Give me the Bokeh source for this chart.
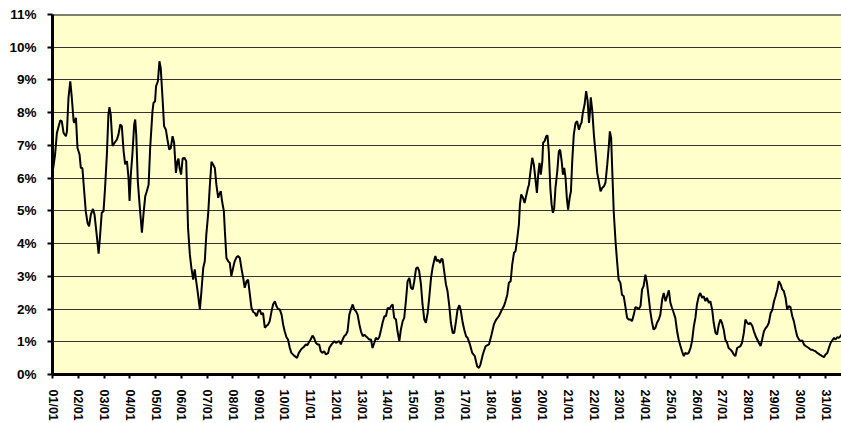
from bokeh.plotting import figure
from bokeh.models import FixedTicker, Range1d, Span
from bokeh.embed import file_html
from bokeh.resources import INLINE

# time axis in years (01/01 = 1.0), value in %
x_vals = [
    1.00, 1.10, 1.17, 1.30, 1.36, 1.43, 1.52, 1.56, 1.62, 1.69, 1.75, 1.82, 1.85, 1.91, 1.97,
    2.05, 2.10, 2.16, 2.23, 2.29, 2.36, 2.42, 2.49, 2.57, 2.63, 2.70, 2.79, 2.85, 2.91, 2.98,
    3.04, 3.11, 3.17, 3.21, 3.26, 3.33, 3.41, 3.50, 3.56, 3.63, 3.69, 3.76, 3.82, 3.89, 3.95, 3.99,
    4.04, 4.10, 4.17, 4.21, 4.25, 4.31, 4.38, 4.47, 4.53, 4.60, 4.66, 4.73, 4.79, 4.88, 4.92, 4.98,
    5.02, 5.09, 5.15, 5.20, 5.27, 5.33, 5.40, 5.46, 5.53, 5.59, 5.66, 5.72, 5.79, 5.85, 5.89, 5.93, 5.99,
    6.05, 6.12, 6.19, 6.26, 6.33, 6.39, 6.46, 6.52, 6.56, 6.63, 6.72, 6.78, 6.85, 6.91, 6.97,
    7.04, 7.10, 7.17, 7.23, 7.30, 7.36, 7.43, 7.47, 7.53, 7.58, 7.65, 7.69, 7.75, 7.82, 7.88, 7.94,
    8.01, 8.07, 8.14, 8.20, 8.27, 8.33, 8.40, 8.46, 8.53, 8.59, 8.66, 8.72, 8.79, 8.85, 8.92, 8.98,
    9.04, 9.11, 9.17, 9.24, 9.30, 9.37, 9.43, 9.50, 9.56, 9.63, 9.69, 9.76, 9.82, 9.89, 9.95,
    10.01, 10.08, 10.14, 10.21, 10.27, 10.40, 10.49, 10.56, 10.66, 10.75, 10.83, 10.89, 10.96,
    11.02, 11.09, 11.15, 11.22, 11.28, 11.35, 11.41, 11.48, 11.54, 11.61, 11.70, 11.74, 11.83, 11.94,
    12.00, 12.07, 12.13, 12.19, 12.26, 12.32, 12.39, 12.45, 12.52, 12.58, 12.65, 12.71, 12.78, 12.84, 12.91, 12.97,
    13.04, 13.10, 13.16, 13.23, 13.29, 13.36, 13.42, 13.49, 13.55, 13.62, 13.68, 13.75, 13.81, 13.88, 13.94,
    14.01, 14.07, 14.14, 14.20, 14.26, 14.33, 14.39, 14.46, 14.52, 14.59, 14.65, 14.72, 14.78, 14.85, 14.91, 14.98,
    15.04, 15.11, 15.17, 15.23, 15.30, 15.36, 15.43, 15.49, 15.56, 15.62, 15.69, 15.75, 15.82, 15.86, 15.91, 15.97,
    16.04, 16.10, 16.14, 16.20, 16.27, 16.33, 16.40, 16.46, 16.53, 16.59, 16.66, 16.72, 16.79, 16.85, 16.92, 16.98,
    17.05, 17.11, 17.20, 17.29, 17.39, 17.48, 17.55, 17.61, 17.70, 17.81, 17.94,
    18.04, 18.13, 18.22, 18.32, 18.41, 18.52, 18.58, 18.65, 18.71, 18.78, 18.84, 18.91, 18.97,
    19.04, 19.10, 19.14, 19.19, 19.26, 19.32, 19.38, 19.45, 19.49, 19.55, 19.62, 19.68, 19.75, 19.80, 19.85, 19.90, 19.95,
    20.01, 20.04, 20.10, 20.16, 20.21, 20.26, 20.32, 20.37, 20.42, 20.47, 20.52, 20.59, 20.65, 20.70, 20.76, 20.81, 20.86, 20.91, 20.96,
    21.01, 21.07, 21.12, 21.17, 21.23, 21.30, 21.36, 21.43, 21.49, 21.53, 21.58, 21.65, 21.71, 21.77, 21.82, 21.86, 21.89, 21.95,
    22.01, 22.08, 22.14, 22.20, 22.27, 22.33, 22.40, 22.46, 22.53, 22.59, 22.63, 22.68, 22.72, 22.78, 22.85, 22.91, 22.97,
    23.04, 23.10, 23.17, 23.23, 23.30, 23.36, 23.43, 23.49, 23.56, 23.62, 23.69, 23.75, 23.82, 23.88, 23.94,
    24.01, 24.07, 24.14, 24.20, 24.27, 24.33, 24.40, 24.46, 24.53, 24.59, 24.66, 24.72, 24.79, 24.85, 24.92, 24.98,
    25.04, 25.11, 25.17, 25.24, 25.30, 25.37, 25.43, 25.50, 25.56, 25.63, 25.69, 25.76, 25.82, 25.89, 25.95,
    26.01, 26.08, 26.14, 26.21, 26.27, 26.34, 26.40, 26.47, 26.53, 26.60, 26.66, 26.73, 26.79, 26.86, 26.92, 26.98,
    27.05, 27.11, 27.18, 27.24, 27.31, 27.37, 27.44, 27.50, 27.57, 27.63, 27.70, 27.76, 27.83, 27.89, 27.96,
    28.02, 28.08, 28.16, 28.22, 28.29, 28.35, 28.41, 28.48, 28.54, 28.61, 28.67, 28.74, 28.80, 28.87, 28.93,
    29.00, 29.06, 29.13, 29.19, 29.26, 29.32, 29.38, 29.45, 29.51, 29.58, 29.64, 29.71, 29.77, 29.84, 29.90, 29.97,
    30.03, 30.10, 30.16, 30.23, 30.29, 30.35, 30.42, 30.48, 30.55, 30.61, 30.68, 30.74, 30.81, 30.87, 30.94,
    31.00, 31.07, 31.13, 31.20, 31.26, 31.33, 31.39, 31.45, 31.52, 31.58, 31.62,
]

y_vals = [
    6.15, 6.72, 7.38, 7.76, 7.74, 7.38, 7.28, 7.43, 8.45, 8.96, 8.45, 7.74, 7.69, 7.84, 6.92,
    6.72, 6.31, 6.31, 5.60, 4.99, 4.63, 4.53, 4.89, 5.06, 4.89, 4.38, 3.69, 4.28, 4.94, 4.99,
    5.70, 6.72, 7.94, 8.17, 7.94, 6.98, 7.08, 7.18, 7.33, 7.64, 7.59, 6.82, 6.42, 6.52, 6.01, 5.30,
    6.11, 6.72, 7.64, 7.79, 7.33, 5.91, 5.19, 4.33, 4.89, 5.45, 5.60, 5.80, 6.92, 8.04, 8.30, 8.35,
    8.81, 8.96, 9.57, 9.37, 8.45, 7.59, 7.48, 7.18, 6.87, 6.92, 7.28, 7.08, 6.16, 6.52, 6.60, 6.31, 6.11,
    6.60, 6.62, 6.52, 4.48, 3.67, 3.26, 2.90, 3.21, 2.95, 2.55, 1.99, 2.55, 3.26, 3.46, 4.28,
    4.89, 5.70, 6.50, 6.42, 6.31, 5.80, 5.40, 5.50, 5.60, 5.30, 4.99, 4.38, 3.56, 3.46, 3.41, 3.01,
    3.26, 3.46, 3.58, 3.62, 3.56, 3.26, 2.95, 2.65, 2.85, 2.90, 2.44, 2.04, 1.91, 1.88, 1.78, 1.93,
    1.99, 1.83, 1.88, 1.43, 1.48, 1.53, 1.63, 1.93, 2.14, 2.24, 2.09, 1.99, 1.99, 1.83, 1.53,
    1.32, 1.14, 1.07, 0.81, 0.66, 0.56, 0.51, 0.66, 0.78, 0.84, 0.92, 0.89, 1.00,
    1.07, 1.19, 1.12, 0.97, 0.92, 0.92, 0.71, 0.66, 0.71, 0.61, 0.66, 0.81, 0.92, 1.02,
    0.97, 1.00, 1.02, 0.92, 1.07, 1.17, 1.22, 1.32, 1.83, 1.99, 2.14, 1.99, 1.93, 1.83, 1.53, 1.32,
    1.17, 1.22, 1.17, 1.12, 1.07, 1.07, 0.81, 0.97, 1.12, 1.07, 1.14, 1.37, 1.58, 1.78, 1.78,
    2.04, 1.99, 2.09, 2.14, 1.73, 1.68, 1.32, 1.02, 1.37, 1.63, 1.73, 2.29, 2.85, 2.95, 2.65, 2.60,
    2.85, 3.24, 3.28, 3.16, 2.75, 2.14, 1.68, 1.58, 1.88, 2.34, 2.95, 3.26, 3.51, 3.62, 3.46, 3.51,
    3.41, 3.54, 3.51, 3.16, 2.75, 2.55, 2.09, 1.58, 1.27, 1.27, 1.63, 1.99, 2.12, 1.93, 1.58, 1.37,
    1.17, 1.12, 0.92, 0.66, 0.56, 0.25, 0.20, 0.31, 0.61, 0.87, 0.92,
    1.22, 1.53, 1.68, 1.78, 1.93, 2.09, 2.24, 2.44, 2.80, 2.85, 3.36, 3.72, 3.77,
    4.18, 4.58, 5.19, 5.50, 5.40, 5.24, 5.45, 5.70, 5.80, 6.21, 6.62, 6.42, 5.91, 5.55, 6.11, 6.47, 6.11,
    6.52, 7.08, 7.13, 7.28, 7.31, 6.82, 5.70, 5.19, 4.94, 5.09, 5.70, 6.21, 6.82, 6.87, 6.52, 6.11, 6.31, 6.01, 5.40,
    5.04, 5.40, 5.60, 6.52, 7.33, 7.69, 7.74, 7.48, 7.64, 7.69, 7.99, 8.25, 8.66, 8.35, 7.69, 8.04, 8.47, 8.04,
    7.33, 6.72, 6.16, 5.91, 5.60, 5.70, 5.75, 5.86, 6.42, 6.98, 7.43, 7.23, 6.31, 4.99, 4.07, 3.46, 2.90,
    2.80, 2.44, 2.39, 2.09, 1.73, 1.68, 1.68, 1.63, 1.83, 2.06, 2.04, 1.99, 2.09, 2.60, 2.70,
    3.05, 2.80, 2.34, 1.93, 1.58, 1.37, 1.43, 1.58, 1.68, 1.83, 2.29, 2.49, 2.24, 2.39, 2.57, 2.19,
    2.04, 1.88, 1.73, 1.32, 1.07, 0.87, 0.71, 0.56, 0.66, 0.63, 0.66, 0.81, 1.02, 1.48, 1.73,
    2.14, 2.39, 2.49, 2.34, 2.39, 2.24, 2.34, 2.19, 2.24, 1.99, 1.58, 1.27, 1.22, 1.53, 1.68, 1.58,
    1.37, 1.07, 0.97, 0.81, 0.76, 0.71, 0.61, 0.56, 0.81, 0.84, 0.87, 0.97, 1.27, 1.68, 1.58,
    1.53, 1.58, 1.48, 1.32, 1.17, 1.07, 0.97, 0.87, 1.07, 1.32, 1.41, 1.48, 1.58, 1.88, 1.96,
    2.24, 2.39, 2.60, 2.85, 2.75, 2.60, 2.55, 2.34, 1.99, 2.09, 2.06, 1.78, 1.63, 1.37, 1.17, 1.07,
    1.02, 1.04, 0.92, 0.87, 0.84, 0.81, 0.76, 0.76, 0.73, 0.71, 0.66, 0.63, 0.59, 0.56, 0.53,
    0.61, 0.66, 0.81, 0.97, 1.04, 1.12, 1.07, 1.14, 1.12, 1.17, 1.22,
]

x_tick_pos = list(range(1, 32))
x_tick_labels = [
    "01/01", "02/01", "03/01", "04/01", "05/01", "06/01", "07/01", "08/01", "09/01", "10/01",
    "11/01", "12/01", "13/01", "14/01", "15/01", "16/01", "17/01", "18/01", "19/01", "20/01",
    "21/01", "22/01", "23/01", "24/01", "25/01", "26/01", "27/01", "28/01", "29/01", "30/01", "31/01",
]
y_tick_pos = list(range(0, 12))
y_tick_labels = ["0%", "1%", "2%", "3%", "4%", "5%", "6%", "7%", "8%", "9%", "10%", "11%"]

X_START, X_END = 1.0, 31.62
Y_MIN, Y_MAX = 0, 11

FONT = "Liberation Sans"

p = figure(width=841, height=423, x_range=Range1d(X_START, X_END), y_range=Range1d(Y_MIN, Y_MAX),
           output_backend="svg", toolbar_location=None,
           min_border_left=52, min_border_right=0, min_border_top=14, min_border_bottom=49)
p.background_fill_color = "#FFFFCC"
p.border_fill_color = "white"
p.outline_line_color = None

p.xgrid.visible = False
p.ygrid.ticker = FixedTicker(ticks=y_tick_pos)
p.ygrid.grid_line_color = "#333333"
p.ygrid.grid_line_width = 1

p.line(x_vals, y_vals, line_color="black", line_width=2)

p.add_layout(Span(location=Y_MAX, dimension="width", line_color="black", line_width=2))

xa = p.xaxis[0]
xa.ticker = FixedTicker(ticks=x_tick_pos)
xa.major_label_overrides = {k: v for k, v in zip(x_tick_pos, x_tick_labels)}
xa.major_label_orientation = "vertical"
xa.axis_line_width = 3
xa.axis_line_color = "black"
xa.major_tick_out = 4
xa.major_tick_in = 0
xa.major_tick_line_width = 2
xa.minor_tick_line_color = None
xa.major_label_text_font = FONT
xa.major_label_text_font_style = "bold"
xa.major_label_text_font_size = "12.5px"
xa.major_label_text_color = "black"
xa.major_label_standoff = 11

ya = p.yaxis[0]
ya.ticker = FixedTicker(ticks=y_tick_pos)
ya.major_label_overrides = {k: v for k, v in zip(y_tick_pos, y_tick_labels)}
ya.axis_line_width = 3
ya.axis_line_color = "black"
ya.major_tick_out = 5
ya.major_tick_in = 0
ya.major_tick_line_width = 2
ya.minor_tick_line_color = None
ya.major_label_text_font = FONT
ya.major_label_text_font_style = "bold"
ya.major_label_text_font_size = "13.5px"
ya.major_label_text_color = "black"
ya.major_label_standoff = 11

open("out.html", "w").write(file_html(p, INLINE))
